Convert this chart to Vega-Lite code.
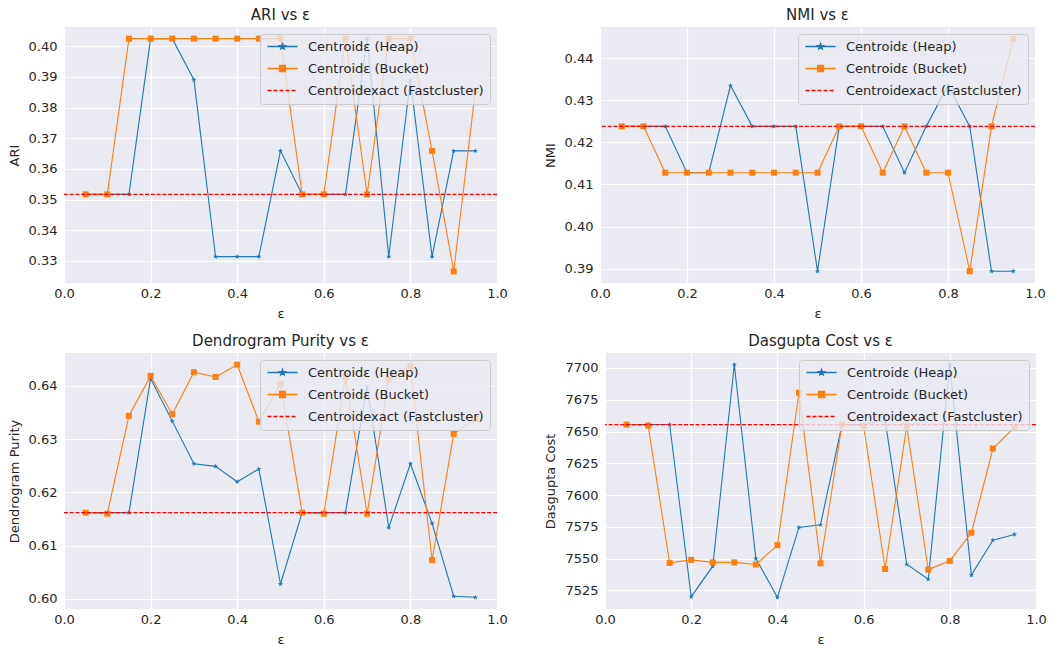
{
  "$schema": "https://vega.github.io/schema/vega-lite/v6.json",
  "padding": {"left": 8, "top": 8, "right": 5, "bottom": 0},
  "background": "white",
  "datasets": {
    "ari": [
      {"e":0.05,"h":0.3517,"b":0.3517},{"e":0.10,"h":0.3517,"b":0.3517},{"e":0.15,"h":0.3517,"b":0.4025},{"e":0.20,"h":0.4025,"b":0.4025},
      {"e":0.25,"h":0.4025,"b":0.4025},{"e":0.30,"h":0.3891,"b":0.4025},{"e":0.35,"h":0.3314,"b":0.4025},{"e":0.40,"h":0.3314,"b":0.4025},
      {"e":0.45,"h":0.3314,"b":0.4025},{"e":0.50,"h":0.3659,"b":0.4025},{"e":0.55,"h":0.3517,"b":0.3517},{"e":0.60,"h":0.3517,"b":0.3517},
      {"e":0.65,"h":0.3517,"b":0.4025},{"e":0.70,"h":0.4025,"b":0.3517},{"e":0.75,"h":0.3314,"b":0.4025},{"e":0.80,"h":0.3891,"b":0.4025},
      {"e":0.85,"h":0.3314,"b":0.3659},{"e":0.90,"h":0.3659,"b":0.3266},{"e":0.95,"h":0.3659,"b":0.3855}
    ],
    "nmi": [
      {"e":0.05,"h":0.4238,"b":0.4238},{"e":0.10,"h":0.4238,"b":0.4238},{"e":0.15,"h":0.4238,"b":0.4128},{"e":0.20,"h":0.4128,"b":0.4128},
      {"e":0.25,"h":0.4128,"b":0.4128},{"e":0.30,"h":0.4335,"b":0.4128},{"e":0.35,"h":0.4238,"b":0.4128},{"e":0.40,"h":0.4238,"b":0.4128},
      {"e":0.45,"h":0.4238,"b":0.4128},{"e":0.50,"h":0.3894,"b":0.4128},{"e":0.55,"h":0.4238,"b":0.4238},{"e":0.60,"h":0.4238,"b":0.4238},
      {"e":0.65,"h":0.4238,"b":0.4128},{"e":0.70,"h":0.4128,"b":0.4238},{"e":0.75,"h":0.4238,"b":0.4128},{"e":0.80,"h":0.4335,"b":0.4128},
      {"e":0.85,"h":0.4238,"b":0.3894},{"e":0.90,"h":0.3894,"b":0.4238},{"e":0.95,"h":0.3894,"b":0.4446}
    ],
    "dp": [
      {"e":0.05,"h":0.6162,"b":0.6162},{"e":0.10,"h":0.6162,"b":0.6160},{"e":0.15,"h":0.6162,"b":0.6344},{"e":0.20,"h":0.6414,"b":0.6419},
      {"e":0.25,"h":0.6334,"b":0.6347},{"e":0.30,"h":0.6254,"b":0.6426},{"e":0.35,"h":0.6249,"b":0.6417},{"e":0.40,"h":0.6220,"b":0.6440},
      {"e":0.45,"h":0.6244,"b":0.6333},{"e":0.50,"h":0.6028,"b":0.6404},{"e":0.55,"h":0.6162,"b":0.6162},{"e":0.60,"h":0.6162,"b":0.6160},
      {"e":0.65,"h":0.6162,"b":0.6417},{"e":0.70,"h":0.6399,"b":0.6160},{"e":0.75,"h":0.6134,"b":0.6412},{"e":0.80,"h":0.6254,"b":0.6437},
      {"e":0.85,"h":0.6142,"b":0.6073},{"e":0.90,"h":0.6005,"b":0.6310},{"e":0.95,"h":0.6003,"b":0.6338}
    ],
    "dc": [
      {"e":0.05,"h":7655.5,"b":7655.5},{"e":0.10,"h":7655.5,"b":7654.7},{"e":0.15,"h":7655.5,"b":7546.6},{"e":0.20,"h":7520,"b":7549},
      {"e":0.25,"h":7544,"b":7547},{"e":0.30,"h":7702.6,"b":7547},{"e":0.35,"h":7550,"b":7545.3},{"e":0.40,"h":7519.5,"b":7560.5},
      {"e":0.45,"h":7574.5,"b":7680.5},{"e":0.50,"h":7576.6,"b":7546.3},{"e":0.55,"h":7655.5,"b":7655.5},{"e":0.60,"h":7655.5,"b":7654.5},
      {"e":0.65,"h":7659,"b":7541.8},{"e":0.70,"h":7545.5,"b":7654},{"e":0.75,"h":7533.7,"b":7541.3},{"e":0.80,"h":7702.6,"b":7548.2},
      {"e":0.85,"h":7537,"b":7570.3},{"e":0.90,"h":7564.5,"b":7636.6},{"e":0.95,"h":7569,"b":7653.2}
    ],
    "ex": [
      {"m":"ari","s":"x","v":0.3517},{"m":"nmi","s":"x","v":0.4238},{"m":"dp","s":"x","v":0.6162},{"m":"dc","s":"x","v":7655.5}
    ]
  },
  "config": {
    "font": "DejaVu Sans",
    "view": {"fill": "#EAEAF2", "stroke": null},
    "axis": {"domain": false, "ticks": false, "tickSize": 0, "grid": true, "gridColor": "#ffffff", "gridWidth": 1.2, "labelFontSize": 13, "labelColor": "#262626", "titleFontSize": 13, "titleFontWeight": "normal", "titleColor": "#262626", "labelFlush": false, "labelOverlap": false},
    "axisX": {"labelPadding": 4, "titlePadding": 7, "tickCount": 20},
    "axisY": {"labelPadding": 7, "titlePadding": 7, "tickCount": 20},
    "title": {"fontSize": 15, "fontWeight": "normal", "color": "#262626", "offset": 4},
    "legend": {"orient": "top-right", "offset": 7, "padding": 6, "cornerRadius": 3, "fillColor": "rgba(234,234,242,0.8)", "strokeColor": "#cccccc", "labelFontSize": 13, "labelColor": "#262626", "labelLimit": 400, "symbolSize": 100, "labelOffset": 29, "rowPadding": 8}
  },
  "spacing": 14,
  "resolve": {"scale": {"color": "independent"}, "legend": {"color": "independent"}},
  "vconcat": [
    {
      "spacing": 36,
      "resolve": {"scale": {"color": "independent"}, "legend": {"color": "independent"}},
      "hconcat": [
        {
          "width": 433, "height": 256, "title": "ARI vs ε",
          "layer": [
            {"data": {"name": "ari"}, "transform": [{"fold": ["h"], "as": ["s", "v"]}],
             "mark": {"type": "line", "strokeWidth": 1.1, "point": {"shape": "M0,-1L0.235,-0.324L0.951,-0.309L0.38,0.124L0.588,0.809L0,0.4L-0.588,0.809L-0.38,0.124L-0.951,-0.309L-0.235,-0.324Z", "size": 30, "filled": true, "opacity": 1}},
             "encoding": {
               "x": {"field": "e", "type": "quantitative", "scale": {"domain": [0, 1]}, "axis": {"title": "ε", "values": [0, 0.2, 0.4, 0.6, 0.8, 1], "format": ".1f"}},
               "y": {"field": "v", "type": "quantitative", "scale": {"domain": [0.3228, 0.4063], "zero": false, "nice": false}, "axis": {"title": "ARI", "values": [0.33, 0.34, 0.35, 0.36, 0.37, 0.38, 0.39, 0.40], "format": ".2f"}},
               "color": {"field": "s", "type": "nominal", "scale": {"domain": ["h", "b", "x"], "range": ["#1f77b4", "#ff7f0e", "#ff0000"]},
                 "legend": {"title": null, "labelExpr": "datum.value == 'h' ? 'Centroidε (Heap)' : datum.value == 'b' ? 'Centroidε (Bucket)' : 'Centroidexact (Fastcluster)'",
                   "encode": {"symbols": {"update": {
                     "shape": {"signal": "datum.value == 'h' ? 'M-1,0L5,0M2,-0.6L2.141,-0.194L2.571,-0.185L2.228,0.074L2.353,0.485L2,0.24L1.647,0.485L1.772,0.074L1.429,-0.185L1.859,-0.194Z' : datum.value == 'b' ? 'M-1,0L5,0M1.4,-0.6L2.6,-0.6L2.6,0.6L1.4,0.6Z' : 'M-1,0L-0.2,0M0.2,0L1,0M1.4,0L2.2,0M2.6,0L3.4,0M3.8,0L4.6,0'"},
                     "fill": {"signal": "datum.value == 'h' ? '#1f77b4' : datum.value == 'b' ? '#ff7f0e' : 'transparent'"},
                     "stroke": {"signal": "datum.value == 'h' ? '#1f77b4' : datum.value == 'b' ? '#ff7f0e' : '#ff0000'"},
                     "strokeWidth": {"value": 1.3}, "strokeDash": {"value": []}, "opacity": {"value": 1}, "size": {"value": 100}}}}}}
             }},
            {"data": {"name": "ari"}, "transform": [{"fold": ["b"], "as": ["s", "v"]}],
             "mark": {"type": "line", "strokeWidth": 1.1, "point": {"shape": "square", "size": 36, "filled": true, "opacity": 1}},
             "encoding": {"x": {"field": "e", "type": "quantitative"}, "y": {"field": "v", "type": "quantitative"}, "color": {"field": "s", "type": "nominal"}}},
            {"data": {"name": "ex"}, "transform": [{"filter": "datum.m == 'ari'"}],
             "mark": {"type": "rule", "strokeDash": [4, 1.8], "strokeWidth": 1.3},
             "encoding": {"y": {"field": "v", "type": "quantitative"}, "color": {"field": "s", "type": "nominal"}}}
          ]
        },
        {
          "width": 435, "height": 256, "title": "NMI vs ε",
          "layer": [
            {"data": {"name": "nmi"}, "transform": [{"fold": ["h"], "as": ["s", "v"]}],
             "mark": {"type": "line", "strokeWidth": 1.1, "point": {"shape": "M0,-1L0.235,-0.324L0.951,-0.309L0.38,0.124L0.588,0.809L0,0.4L-0.588,0.809L-0.38,0.124L-0.951,-0.309L-0.235,-0.324Z", "size": 30, "filled": true, "opacity": 1}},
             "encoding": {
               "x": {"field": "e", "type": "quantitative", "scale": {"domain": [0, 1]}, "axis": {"title": "ε", "values": [0, 0.2, 0.4, 0.6, 0.8, 1], "format": ".1f"}},
               "y": {"field": "v", "type": "quantitative", "scale": {"domain": [0.3866, 0.4474], "zero": false, "nice": false}, "axis": {"title": "NMI", "values": [0.39, 0.40, 0.41, 0.42, 0.43, 0.44], "format": ".2f"}},
               "color": {"field": "s", "type": "nominal", "scale": {"domain": ["h", "b", "x"], "range": ["#1f77b4", "#ff7f0e", "#ff0000"]},
                 "legend": {"title": null, "labelExpr": "datum.value == 'h' ? 'Centroidε (Heap)' : datum.value == 'b' ? 'Centroidε (Bucket)' : 'Centroidexact (Fastcluster)'",
                   "encode": {"symbols": {"update": {
                     "shape": {"signal": "datum.value == 'h' ? 'M-1,0L5,0M2,-0.6L2.141,-0.194L2.571,-0.185L2.228,0.074L2.353,0.485L2,0.24L1.647,0.485L1.772,0.074L1.429,-0.185L1.859,-0.194Z' : datum.value == 'b' ? 'M-1,0L5,0M1.4,-0.6L2.6,-0.6L2.6,0.6L1.4,0.6Z' : 'M-1,0L-0.2,0M0.2,0L1,0M1.4,0L2.2,0M2.6,0L3.4,0M3.8,0L4.6,0'"},
                     "fill": {"signal": "datum.value == 'h' ? '#1f77b4' : datum.value == 'b' ? '#ff7f0e' : 'transparent'"},
                     "stroke": {"signal": "datum.value == 'h' ? '#1f77b4' : datum.value == 'b' ? '#ff7f0e' : '#ff0000'"},
                     "strokeWidth": {"value": 1.3}, "strokeDash": {"value": []}, "opacity": {"value": 1}, "size": {"value": 100}}}}}}
             }},
            {"data": {"name": "nmi"}, "transform": [{"fold": ["b"], "as": ["s", "v"]}],
             "mark": {"type": "line", "strokeWidth": 1.1, "point": {"shape": "square", "size": 36, "filled": true, "opacity": 1}},
             "encoding": {"x": {"field": "e", "type": "quantitative"}, "y": {"field": "v", "type": "quantitative"}, "color": {"field": "s", "type": "nominal"}}},
            {"data": {"name": "ex"}, "transform": [{"filter": "datum.m == 'nmi'"}],
             "mark": {"type": "rule", "strokeDash": [4, 1.8], "strokeWidth": 1.3},
             "encoding": {"y": {"field": "v", "type": "quantitative"}, "color": {"field": "s", "type": "nominal"}}}
          ]
        }
      ]
    },
    {
      "spacing": 36,
      "resolve": {"scale": {"color": "independent"}, "legend": {"color": "independent"}},
      "hconcat": [
        {
          "width": 433, "height": 256, "title": "Dendrogram Purity vs ε",
          "layer": [
            {"data": {"name": "dp"}, "transform": [{"fold": ["h"], "as": ["s", "v"]}],
             "mark": {"type": "line", "strokeWidth": 1.1, "point": {"shape": "M0,-1L0.235,-0.324L0.951,-0.309L0.38,0.124L0.588,0.809L0,0.4L-0.588,0.809L-0.38,0.124L-0.951,-0.309L-0.235,-0.324Z", "size": 30, "filled": true, "opacity": 1}},
             "encoding": {
               "x": {"field": "e", "type": "quantitative", "scale": {"domain": [0, 1]}, "axis": {"title": "ε", "values": [0, 0.2, 0.4, 0.6, 0.8, 1], "format": ".1f"}},
               "y": {"field": "v", "type": "quantitative", "scale": {"domain": [0.5981, 0.6462], "zero": false, "nice": false}, "axis": {"title": "Dendrogram Purity", "values": [0.60, 0.61, 0.62, 0.63, 0.64], "format": ".2f"}},
               "color": {"field": "s", "type": "nominal", "scale": {"domain": ["h", "b", "x"], "range": ["#1f77b4", "#ff7f0e", "#ff0000"]},
                 "legend": {"title": null, "labelExpr": "datum.value == 'h' ? 'Centroidε (Heap)' : datum.value == 'b' ? 'Centroidε (Bucket)' : 'Centroidexact (Fastcluster)'",
                   "encode": {"symbols": {"update": {
                     "shape": {"signal": "datum.value == 'h' ? 'M-1,0L5,0M2,-0.6L2.141,-0.194L2.571,-0.185L2.228,0.074L2.353,0.485L2,0.24L1.647,0.485L1.772,0.074L1.429,-0.185L1.859,-0.194Z' : datum.value == 'b' ? 'M-1,0L5,0M1.4,-0.6L2.6,-0.6L2.6,0.6L1.4,0.6Z' : 'M-1,0L-0.2,0M0.2,0L1,0M1.4,0L2.2,0M2.6,0L3.4,0M3.8,0L4.6,0'"},
                     "fill": {"signal": "datum.value == 'h' ? '#1f77b4' : datum.value == 'b' ? '#ff7f0e' : 'transparent'"},
                     "stroke": {"signal": "datum.value == 'h' ? '#1f77b4' : datum.value == 'b' ? '#ff7f0e' : '#ff0000'"},
                     "strokeWidth": {"value": 1.3}, "strokeDash": {"value": []}, "opacity": {"value": 1}, "size": {"value": 100}}}}}}
             }},
            {"data": {"name": "dp"}, "transform": [{"fold": ["b"], "as": ["s", "v"]}],
             "mark": {"type": "line", "strokeWidth": 1.1, "point": {"shape": "square", "size": 36, "filled": true, "opacity": 1}},
             "encoding": {"x": {"field": "e", "type": "quantitative"}, "y": {"field": "v", "type": "quantitative"}, "color": {"field": "s", "type": "nominal"}}},
            {"data": {"name": "ex"}, "transform": [{"filter": "datum.m == 'dp'"}],
             "mark": {"type": "rule", "strokeDash": [4, 1.8], "strokeWidth": 1.3},
             "encoding": {"y": {"field": "v", "type": "quantitative"}, "color": {"field": "s", "type": "nominal"}}}
          ]
        },
        {
          "width": 431, "height": 256, "title": "Dasgupta Cost vs ε",
          "layer": [
            {"data": {"name": "dc"}, "transform": [{"fold": ["h"], "as": ["s", "v"]}],
             "mark": {"type": "line", "strokeWidth": 1.1, "point": {"shape": "M0,-1L0.235,-0.324L0.951,-0.309L0.38,0.124L0.588,0.809L0,0.4L-0.588,0.809L-0.38,0.124L-0.951,-0.309L-0.235,-0.324Z", "size": 30, "filled": true, "opacity": 1}},
             "encoding": {
               "x": {"field": "e", "type": "quantitative", "scale": {"domain": [0, 1]}, "axis": {"title": "ε", "values": [0, 0.2, 0.4, 0.6, 0.8, 1], "format": ".1f"}},
               "y": {"field": "v", "type": "quantitative", "scale": {"domain": [7510.3, 7711.8], "zero": false, "nice": false}, "axis": {"title": "Dasgupta Cost", "values": [7525, 7550, 7575, 7600, 7625, 7650, 7675, 7700], "format": "d"}},
               "color": {"field": "s", "type": "nominal", "scale": {"domain": ["h", "b", "x"], "range": ["#1f77b4", "#ff7f0e", "#ff0000"]},
                 "legend": {"title": null, "labelExpr": "datum.value == 'h' ? 'Centroidε (Heap)' : datum.value == 'b' ? 'Centroidε (Bucket)' : 'Centroidexact (Fastcluster)'",
                   "encode": {"symbols": {"update": {
                     "shape": {"signal": "datum.value == 'h' ? 'M-1,0L5,0M2,-0.6L2.141,-0.194L2.571,-0.185L2.228,0.074L2.353,0.485L2,0.24L1.647,0.485L1.772,0.074L1.429,-0.185L1.859,-0.194Z' : datum.value == 'b' ? 'M-1,0L5,0M1.4,-0.6L2.6,-0.6L2.6,0.6L1.4,0.6Z' : 'M-1,0L-0.2,0M0.2,0L1,0M1.4,0L2.2,0M2.6,0L3.4,0M3.8,0L4.6,0'"},
                     "fill": {"signal": "datum.value == 'h' ? '#1f77b4' : datum.value == 'b' ? '#ff7f0e' : 'transparent'"},
                     "stroke": {"signal": "datum.value == 'h' ? '#1f77b4' : datum.value == 'b' ? '#ff7f0e' : '#ff0000'"},
                     "strokeWidth": {"value": 1.3}, "strokeDash": {"value": []}, "opacity": {"value": 1}, "size": {"value": 100}}}}}}
             }},
            {"data": {"name": "dc"}, "transform": [{"fold": ["b"], "as": ["s", "v"]}],
             "mark": {"type": "line", "strokeWidth": 1.1, "point": {"shape": "square", "size": 36, "filled": true, "opacity": 1}},
             "encoding": {"x": {"field": "e", "type": "quantitative"}, "y": {"field": "v", "type": "quantitative"}, "color": {"field": "s", "type": "nominal"}}},
            {"data": {"name": "ex"}, "transform": [{"filter": "datum.m == 'dc'"}],
             "mark": {"type": "rule", "strokeDash": [4, 1.8], "strokeWidth": 1.3},
             "encoding": {"y": {"field": "v", "type": "quantitative"}, "color": {"field": "s", "type": "nominal"}}}
          ]
        }
      ]
    }
  ]
}
